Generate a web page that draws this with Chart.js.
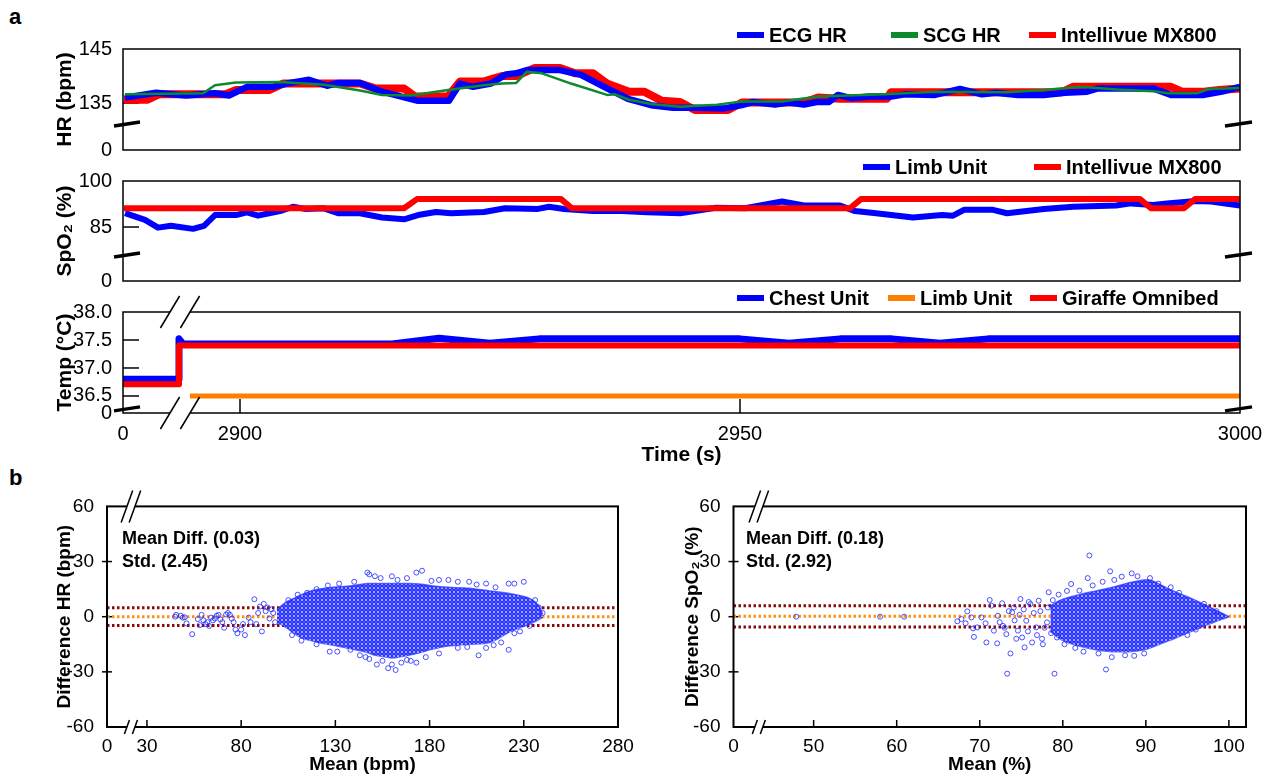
<!DOCTYPE html>
<html>
<head>
<meta charset="utf-8">
<script src="https://cdn.jsdelivr.net/npm/chart.js@4.4.1/dist/chart.umd.min.js"></script>
<style>
  body { margin: 0; background: #fff; }
  #page { position: relative; width: 1277px; height: 779px; overflow: hidden; font-family: Arial, "Liberation Sans", sans-serif; }
  .letter { position: absolute; font-weight: bold; font-size: 22px; }
  canvas { position: absolute; }
</style>
</head>
<body>
<div id="page">
  <div class="letter" style="left:9px; top:4px;">a</div>
  <div class="letter" style="left:9px; top:465px;">b</div>
  <canvas id="hrChart" style="left:0; top:0;" width="1277" height="165"></canvas>
  <canvas id="spo2Chart" style="left:0; top:150px;" width="1277" height="150"></canvas>
  <canvas id="tempChart" style="left:0; top:285px;" width="1277" height="185"></canvas>
  <canvas id="hrBaChart" style="left:0; top:490px;" width="640" height="289"></canvas>
  <canvas id="spo2BaChart" style="left:640px; top:490px;" width="637" height="289"></canvas>
</div>
<script>
// ---- panel a: heart rate (bpm) ----
var ecgTime = [2888.5, 2891.6, 2894.6, 2897.5, 2898.9, 2900.7, 2903.3, 2904.7, 2906.9, 2908.7, 2909.8, 2912.0, 2914.2, 2917.8, 2920.9, 2922.0, 2923.3, 2925.1, 2926.6, 2927.6, 2928.7, 2932.0, 2934.1, 2936.7, 2938.9, 2941.1, 2943.3, 2945.5, 2948.4, 2950.2, 2951.3, 2953.5, 2954.9, 2956.4, 2957.8, 2958.9, 2959.8, 2961.1, 2962.9, 2965.1, 2966.5, 2969.5, 2972.0, 2974.2, 2975.6, 2977.8, 2980.4, 2982.5, 2984.7, 2985.8, 2991.3, 2993.1, 2996.4, 2998.2, 3000];
var ecgHr = [136.0, 136.9, 136.4, 136.8, 136.4, 138.0, 138.0, 138.6, 139.3, 138.2, 138.7, 138.7, 137.1, 135.4, 135.4, 138.6, 138.0, 138.6, 140.3, 140.5, 141.1, 141.1, 140.2, 137.7, 135.7, 134.6, 134.1, 134.1, 134.0, 134.6, 135.2, 134.7, 135.1, 134.7, 135.2, 135.2, 136.5, 135.9, 136.2, 136.2, 136.6, 136.5, 137.6, 136.6, 136.9, 136.5, 136.5, 136.9, 137.1, 137.7, 137.7, 136.5, 136.5, 137.1, 138.0];

var scgTime = [2888.5, 2896.3, 2897.5, 2899.6, 2904.0, 2908.4, 2912.0, 2914.2, 2917.1, 2920.8, 2924.4, 2926.2, 2927.6, 2928.7, 2930.2, 2933.1, 2936.7, 2937.5, 2938.9, 2941.1, 2944.0, 2947.7, 2950.2, 2954.2, 2957.8, 2964.4, 2969.5, 2976.7, 2980.4, 2984.0, 2987.7, 2991.3, 2992.8, 2995.7, 2996.8, 3000];
var scgHr = [136.6, 136.8, 138.3, 138.8, 138.9, 138.4, 137.3, 136.5, 136.4, 137.4, 138.3, 138.6, 138.7, 140.8, 140.5, 138.6, 136.5, 136.6, 135.6, 134.8, 134.3, 134.7, 135.3, 135.3, 136.2, 136.6, 137.1, 137.0, 137.4, 138.0, 137.5, 137.2, 136.8, 136.8, 137.6, 137.8];

var mx800HrTime = [2888.4, 2890.7, 2891.9, 2898.5, 2899.6, 2902.9, 2904.3, 2912.0, 2913.5, 2916.4, 2917.5, 2920.8, 2922.0, 2924.4, 2926.2, 2927.6, 2929.5, 2932.0, 2933.5, 2935.3, 2936.7, 2938.9, 2940.4, 2942.2, 2944.0, 2945.5, 2948.8, 2950.2, 2956.4, 2957.8, 2960.0, 2964.7, 2965.1, 2982.2, 2983.3, 2993.1, 2994.2, 2996.4, 2997.9, 3000];
var mx800Hr = [135.6, 135.6, 136.6, 136.6, 137.4, 137.4, 138.6, 138.6, 137.7, 137.7, 136.2, 136.2, 139.0, 139.0, 140.0, 140.0, 141.5, 141.5, 140.5, 140.5, 138.6, 137.1, 137.1, 135.4, 135.2, 133.7, 133.7, 135.1, 135.1, 136.0, 135.8, 135.8, 137.0, 137.0, 138.0, 138.0, 137.1, 137.1, 137.4, 137.7];

var hrAxisMin = 126.3; // broken axis, bottom edge is labelled 0
var hrTickValues = [hrAxisMin, 135, 145];
var hrTickLabels = ['0', '135', '145'];

// ---- panel a: SpO2 (%) ----
var limbSpo2Time = [2888.5, 2890.5, 2891.8, 2893.1, 2895.3, 2896.4, 2897.5, 2899.6, 2900.7, 2901.8, 2904.0, 2905.3, 2906.5, 2908.4, 2909.8, 2912.0, 2914.2, 2916.4, 2917.8, 2919.6, 2921.1, 2924.4, 2926.5, 2929.8, 2930.9, 2932.4, 2935.3, 2938.2, 2940.7, 2944.0, 2947.6, 2950.5, 2954.2, 2956.4, 2960.0, 2961.5, 2963.6, 2967.3, 2970.2, 2971.3, 2972.4, 2975.3, 2976.7, 2980.4, 2983.3, 2987.6, 2989.1, 2991.3, 2992.7, 2995.6, 2997.1, 3000];
var limbSpo2 = [89.5, 87.3, 84.8, 85.4, 84.4, 85.4, 88.9, 88.9, 89.8, 88.7, 90.2, 91.6, 90.9, 91.1, 89.5, 89.5, 88.1, 87.5, 88.9, 89.9, 89.5, 89.9, 91.1, 90.9, 91.6, 90.9, 90.2, 90.2, 89.8, 89.5, 91.3, 91.1, 93.3, 92.0, 92.0, 90.2, 89.5, 88.1, 88.9, 88.7, 90.6, 90.6, 89.5, 90.9, 91.6, 92.0, 92.7, 92.2, 92.7, 93.5, 93.3, 92.0];

var mx800Spo2Time = [2888.4, 2916.4, 2917.7, 2932.1, 2933.2, 2961.0, 2962.1, 2990.0, 2991.1, 2994.4, 2995.5, 3000];
var mx800Spo2 = [91.1, 91.1, 94.1, 94.1, 91.1, 91.1, 94.1, 94.1, 91.1, 91.1, 94.1, 94.1];

var spo2AxisMin = 67.4;
var spo2TickValues = [spo2AxisMin, 85, 100];
var spo2TickLabels = ['0', '85', '100'];

// ---- panel a: temperature (C) ----
var chestTime = [2888.3, 2893.9, 2893.9, 2894.3, 2915.2, 2919.9, 2925.0, 2929.9, 2950.0, 2954.9, 2960.0, 2965.2, 2970.0, 2974.8, 3000];
var chestTemp = [36.8, 36.8, 37.52, 37.43, 37.43, 37.53, 37.44, 37.52, 37.52, 37.44, 37.52, 37.52, 37.44, 37.52, 37.52];
var limbTempTime = [2895.0, 3000];
var limbTemp = [36.5, 36.5];
var giraffeTime = [2888.3, 2893.9, 2893.9, 3000];
var giraffeTemp = [36.71, 36.71, 37.40, 37.40];

var tempAxisMin = 36.196;
var tempTickValues = [tempAxisMin, 36.5, 37.0, 37.5, 38.0];
var tempTickLabels = ['0', '36.5', '37.0', '37.5', '38.0'];

// shared time axis (broken after 0)
var timeAxisMin = 2888.3;
var timeAxisMax = 3000;
var timeTickValues = [timeAxisMin, 2900, 2950, 3000];
var timeTickLabels = ['0', '2900', '2950', '3000'];

// ---- panel b: Bland-Altman, HR ----
var hrMeanDiff = 0.03;
var hrStd = 2.45;
var hrBaEnvMean = [99, 104, 108, 112, 117, 121, 129, 136, 143, 147, 151, 158, 160, 169, 177, 180, 190, 201, 212, 223, 233, 238, 240];
var hrBaEnvUpper = [4, 8, 10, 12, 14, 15, 16, 16.5, 17.5, 18, 18, 18, 18, 18, 17.5, 17, 16, 15.5, 14, 12.5, 10, 6, 1.5];
var hrBaEnvLower = [-3, -6, -9, -11.5, -13, -14, -15.5, -17, -18.5, -19.5, -21, -22, -22.5, -21, -19, -18, -16, -15, -14, -8, -4, -1.5, -0.4];
var hrBaPoints = [
  [45, 0], [45.5, 1], [48, 0.5], [49, -0.5], [50, -0.3], [51, -3.6], [54, -9.5], [57, -1.3], [58, -4.6], [59, 1],
  [60, -2], [61, -4], [62, -3], [63, -5], [64, -0.5], [65, -2], [66, -1], [67, 0.5], [68, 1], [69, -1.5],
  [70, -3], [71, -6], [72, 1.2], [73, 2], [74, 1], [75, -1], [76, -3], [77, -7], [78, -9], [80, -7],
  [81, -4], [82, -10], [84, -0.5], [85, -3], [87, 9.5], [88, -4], [89, 2], [90, 5.5], [91, -8], [92, 7],
  [93, 3], [94, 5], [95, -1], [96, 4], [97, 2], [98, -3],
  [147, 24], [148, 23], [151, 22], [154, 21], [173, 24], [176, 25], [168, 21], [160, 22], [190, 20], [201, 19],
  [210, 18], [222, 18], [225, 18], [230, 19], [215, 16], [195, 19], [120, 15], [115, 13], [110, 12], [105, 9],
  [140, 19], [132, 18], [185, 20], [236, 9], [238, 5], [240, 2], [163, 20], [181, 19.5], [126, 17], [205, 17.5],
  [148, -23], [152, -26], [155, -24], [158, -28], [162, -29], [160, -26], [165, -25], [170, -24], [173, -25], [143, -21],
  [138, -18], [127, -19], [120, -15], [112, -13], [107, -10], [185, -20], [195, -17], [206, -21], [210, -17], [222, -18],
  [218, -14], [228, -8], [233, -5], [178, -22], [131, -19], [146, -22], [168, -23.5], [200, -16.5], [214, -15.5], [225, -9]
];
var hrBaAxisMin = 8.8;
var hrBaAxisMax = 280;
var hrBaTickValues = [hrBaAxisMin, 30, 80, 130, 180, 230, 280];
var hrBaTickLabels = ['0', '30', '80', '130', '180', '230', '280'];

// ---- panel b: Bland-Altman, SpO2 ----
var spo2MeanDiff = 0.18;
var spo2Std = 2.92;
var spo2BaEnvMean = [78.5, 80, 82, 84, 86, 88, 89.8, 90.8, 92.8, 95.2, 97.6, 100];
var spo2BaEnvUpper = [6, 9.5, 12, 14, 16, 18.5, 20, 19.5, 15, 10.5, 5.5, 0];
var spo2BaEnvLower = [-8, -13, -16, -18, -19, -19, -18, -16.5, -13, -8.5, -4, 0];
var spo2BaPoints = [
  [47.9, 0], [58, 0], [60.9, 0],
  [67.3, -2.5], [67.8, -1.3], [68.3, -3.6], [68.5, 2.9], [69, -0.4], [69.2, -6.4], [69.3, -11], [69.7, -5.8], [70.2, -0.4], [70.7, -3.6],
  [70.8, -14], [71.2, 9.1], [71.4, 6], [71.7, -7.6], [72.1, -14.5], [72.2, 0.5], [72.4, -3], [72.7, 7.3], [73.2, -9.5], [73.3, -31],
  [73.7, -20], [73.9, 2.4], [74.1, 5], [74.6, -7.6], [74.9, 9.6], [75.1, -11.3], [75.4, -16.7], [75.6, -2.2], [76.1, 6.9], [76.3, -14],
  [76.8, -5.8], [77.1, 8.7], [77.6, -15], [78.1, -3.1], [78.3, 13.3], [79, -31], [79.3, -11.3], [81, 17.8], [82, 14.2], [83, 21],
  [83.2, 33.3], [85.2, -28.7], [85.7, 24.7], [85.9, -22], [87.1, 21.8], [88.3, 23.6], [88.6, -21.3], [89.8, -20],
  [72.8, -5], [73.5, 3], [74.2, -2], [74.8, 1], [75.3, 4], [75.8, -8], [76.5, 2], [76.9, -10], [77.3, 3], [77.8, -6],
  [78.2, 5], [78.6, -9], [73.0, -6], [74.4, -12], [75.9, 8], [77.5, -12], [78.8, 9], [79.5, 12], [80.2, -15], [80.5, 14],
  [81.5, -17], [82.5, -19], [83.6, 17], [84.3, -20], [84.8, 19], [86.2, 20], [87.5, -21], [89, 22], [90.5, 21], [91.5, 18],
  [93, 16], [94, 13], [95, -10], [96, -7], [97, 7], [98.5, 3]
];
var spo2BaAxisMin = 40.35;
var spo2BaAxisMax = 102.06;
var spo2BaTickValues = [spo2BaAxisMin, 50, 60, 70, 80, 90, 100];
var spo2BaTickLabels = ['0', '50', '60', '70', '80', '90', '100'];

var FONT = 'Arial, "Liberation Sans", sans-serif';
Chart.defaults.font.family = FONT;
Chart.defaults.color = '#000';

function pts(xs, ys) {
  return xs.map(function (x, i) { return { x: x, y: ys[i] }; });
}
function pairs(list) {
  return list.map(function (p) { return { x: p[0], y: p[1] }; });
}
function seg(ctx, x1, y1, x2, y2) {
  ctx.beginPath(); ctx.moveTo(x1, y1); ctx.lineTo(x2, y2); ctx.stroke();
}

// frame, inward ticks, axis breaks, legend and notes
var decorPlugin = {
  id: 'decor',
  beforeDatasetsDraw: function (chart, args, o) {
    var ctx = chart.ctx, a = chart.chartArea, sx = chart.scales.x, sy = chart.scales.y;
    ctx.save();
    ctx.strokeStyle = '#000';
    ctx.lineWidth = 1.5;
    (o.yTicksIn || []).forEach(function (v) {
      var py = sy.getPixelForValue(v);
      seg(ctx, a.left, py, a.left + o.tickLen, py);
    });
    (o.yTicksCross || []).forEach(function (v) {
      var py = sy.getPixelForValue(v);
      seg(ctx, a.left - 5, py, a.left + 5, py);
    });
    (o.xTicksIn || []).forEach(function (v) {
      var px = sx.getPixelForValue(v);
      seg(ctx, px, a.bottom, px, a.bottom - o.xTickLen);
    });
    ctx.restore();
  },
  afterDatasetsDraw: function (chart, args, o) {
    var ctx = chart.ctx, a = chart.chartArea, sx = chart.scales.x, sy = chart.scales.y;
    ctx.save();
    ctx.strokeStyle = '#000';
    ctx.lineWidth = o.frameWidth;
    ctx.strokeRect(a.left, a.top, a.right - a.left, a.bottom - a.top);

    if (o.yBreak != null) {
      var py = sy.getPixelForValue(o.yBreak);
      ctx.lineWidth = 3.5;
      seg(ctx, a.left - 9, py + 2, a.left + 17, py - 2);
      seg(ctx, a.right - 15, py + 2, a.right + 12, py - 2);
    }

    if (o.xBreak) {
      var b = o.xBreak, px = sx.getPixelForValue(b.value);
      [[a.top, b.topH], [a.bottom, b.bottomH]].forEach(function (e) {
        var ey = e[0], h = e[1];
        if (!h) return;
        ctx.fillStyle = '#fff';
        ctx.fillRect(px - b.gap / 2, ey - 2, b.gap, 4);
        ctx.lineWidth = 1.5;
        [-b.gap / 2, b.gap / 2].forEach(function (off) {
          var run = h * b.slope;
          seg(ctx, px + off - run, ey + h, px + off + run, ey - h);
        });
      });
    }

    if (o.notes) {
      ctx.fillStyle = '#000';
      ctx.font = 'bold 18px ' + FONT;
      ctx.textBaseline = 'middle';
      ctx.textAlign = 'left';
      o.notes.forEach(function (n) { ctx.fillText(n.text, a.left + n.dx, a.top + n.dy); });
    }

    if (o.legend) {
      ctx.font = 'bold 20px ' + FONT;
      ctx.textBaseline = 'middle';
      ctx.textAlign = 'left';
      o.legend.items.forEach(function (it) {
        var ds = chart.data.datasets[it[0]];
        ctx.strokeStyle = ds.borderColor;
        ctx.lineWidth = 6;
        seg(ctx, it[1], o.legend.y, it[1] + 27, o.legend.y);
        ctx.fillStyle = '#000';
        ctx.fillText(ds.label, it[1] + 32, o.legend.y + 1);
      });
    }
    ctx.restore();
  }
};

function fixedTicks(values) {
  return function (scale) {
    scale.ticks = values.map(function (v) { return { value: v }; });
  };
}

// options for the three time panels
function timeOptions(p) {
  return {
    responsive: false,
    animation: false,
    events: [],
    layout: { padding: { left: 53, right: 37, top: p.top, bottom: p.bottom } },
    elements: { point: { radius: 0 }, line: { tension: 0, borderJoinStyle: 'round' } },
    scales: {
      x: {
        type: 'linear',
        min: timeAxisMin,
        max: timeAxisMax,
        display: p.showTime,
        afterBuildTicks: fixedTicks(timeTickValues),
        afterFit: function (s) { s.height = p.showTime ? 55 : 0; },
        ticks: {
          autoSkip: false, maxRotation: 0, padding: 1, font: { size: 20 },
          callback: function (v, i) { return timeTickLabels[i]; }
        },
        title: { display: true, text: 'Time (s)', font: { size: 21, weight: 'bold' }, padding: 0 },
        grid: { display: false },
        border: { display: false }
      },
      y: {
        min: p.yMin,
        max: p.yMax,
        afterBuildTicks: fixedTicks(p.tickValues),
        afterFit: function (s) { s.width = 70; },
        ticks: {
          autoSkip: false, padding: 3, font: { size: 20 },
          callback: function (v, i) { return p.tickLabels[i]; }
        },
        title: { display: true, text: p.yTitle, font: { size: 21, weight: 'bold' }, padding: 0 },
        grid: { display: false },
        border: { display: false }
      }
    },
    plugins: { legend: { display: false }, tooltip: { enabled: false }, decor: p.decor }
  };
}

new Chart(document.getElementById('hrChart'), {
  type: 'line',
  data: {
    datasets: [
      { label: 'ECG HR', data: pts(ecgTime, ecgHr), borderColor: '#0000ff', borderWidth: 6.5, order: 1 },
      { label: 'SCG HR', data: pts(scgTime, scgHr), borderColor: '#0c8a2c', borderWidth: 2.5, order: 0 },
      { label: 'Intellivue MX800', data: pts(mx800HrTime, mx800Hr), borderColor: '#ff0000', borderWidth: 8, order: 2 }
    ]
  },
  options: timeOptions({
    top: 49, bottom: 15, showTime: false,
    yMin: hrAxisMin, yMax: 145, tickValues: hrTickValues, tickLabels: hrTickLabels, yTitle: 'HR (bpm)',
    decor: { frameWidth: 1.5, tickLen: 16, yTicksIn: [135], yBreak: 131.1,
      legend: { y: 35, items: [[0, 737], [1, 891], [2, 1029]] } }
  }),
  plugins: [decorPlugin]
});

new Chart(document.getElementById('spo2Chart'), {
  type: 'line',
  data: {
    datasets: [
      { label: 'Limb Unit', data: pts(limbSpo2Time, limbSpo2), borderColor: '#0000ff', borderWidth: 6, order: 1 },
      { label: 'Intellivue MX800', data: pts(mx800Spo2Time, mx800Spo2), borderColor: '#ff0000', borderWidth: 6, order: 0 }
    ]
  },
  options: timeOptions({
    top: 31, bottom: 19, showTime: false,
    yMin: spo2AxisMin, yMax: 100, tickValues: spo2TickValues, tickLabels: spo2TickLabels, yTitle: 'SpO\u2082 (%)',
    decor: { frameWidth: 1.5, tickLen: 16, yTicksIn: [85], yBreak: 75.9,
      legend: { y: 17, items: [[0, 863], [1, 1034]] } }
  }),
  plugins: [decorPlugin]
});

new Chart(document.getElementById('tempChart'), {
  type: 'line',
  data: {
    datasets: [
      { label: 'Chest Unit', data: pts(chestTime, chestTemp), borderColor: '#0000ff', borderWidth: 7, order: 2 },
      { label: 'Limb Unit', data: pts(limbTempTime, limbTemp), borderColor: '#ff8000', borderWidth: 5, order: 1 },
      { label: 'Giraffe Omnibed', data: pts(giraffeTime, giraffeTemp), borderColor: '#ff0000', borderWidth: 6, order: 0 }
    ]
  },
  options: timeOptions({
    top: 27, bottom: 2, showTime: true,
    yMin: tempAxisMin, yMax: 38.0, tickValues: tempTickValues, tickLabels: tempTickLabels, yTitle: 'Temp (\u00b0C)',
    decor: { frameWidth: 1.5, tickLen: 16, xTickLen: 14, yTicksIn: [36.5, 37.0, 37.5], xTicksIn: [2900, 2950],
      yBreak: 36.27,
      xBreak: { value: 2894.0, gap: 20, slope: 0.6, topH: 16, bottomH: 16 },
      legend: { y: 13, items: [[0, 737], [1, 888], [2, 1030]] } }
  }),
  plugins: [decorPlugin]
});

// dense cloud is drawn as a textured area between its upper and lower edge
function cloudPattern() {
  var tile = document.createElement('canvas');
  tile.width = 4; tile.height = 4;
  var t = tile.getContext('2d');
  t.fillStyle = '#b9beff';
  t.fillRect(0, 0, 4, 4);
  t.strokeStyle = 'rgba(25,35,255,0.9)';
  t.lineWidth = 1.2;
  t.beginPath(); t.arc(2, 2, 1.7, 0, Math.PI * 2); t.stroke();
  return t.createPattern(tile, 'repeat');
}

function baChart(id, p) {
  var loaUp = p.meanDiff + 1.96 * p.std;
  var loaDown = p.meanDiff - 1.96 * p.std;
  var span = function (v) { return [{ x: p.xMin, y: v }, { x: p.xMax, y: v }]; };
  var dotted = { type: 'line', borderWidth: 3, borderDash: [2.5, 2.5], pointRadius: 0, fill: false };
  return new Chart(document.getElementById(id), {
    type: 'scatter',
    data: {
      datasets: [
        { label: 'points', data: pairs(p.points), pointRadius: 2.5, borderWidth: 1,
          borderColor: 'rgba(30,40,255,0.8)', backgroundColor: 'rgba(255,255,255,0)' },
        { type: 'line', label: 'cloud top', data: pts(p.envMean, p.envUpper), pointRadius: 0, tension: 0.3,
          borderWidth: 1.5, borderColor: 'rgba(35,45,255,0.7)', backgroundColor: cloudPattern(), fill: '+1' },
        { type: 'line', label: 'cloud bottom', data: pts(p.envMean, p.envLower), pointRadius: 0, tension: 0.3,
          borderWidth: 1.5, borderColor: 'rgba(35,45,255,0.7)', fill: false },
        Object.assign({ label: 'upper limit', data: span(loaUp), borderColor: '#8b0a0a' }, dotted),
        Object.assign({ label: 'mean', data: span(p.meanDiff), borderColor: '#ff9214' }, dotted),
        Object.assign({ label: 'lower limit', data: span(loaDown), borderColor: '#8b0a0a' }, dotted)
      ]
    },
    options: {
      responsive: false,
      animation: false,
      events: [],
      layout: { padding: { left: p.padLeft, right: p.padRight, top: 16, bottom: 3 } },
      scales: {
        x: {
          type: 'linear', min: p.xMin, max: p.xMax,
          afterBuildTicks: fixedTicks(p.tickValues),
          afterFit: function (s) { s.height = 49; },
          ticks: { autoSkip: false, maxRotation: 0, padding: 0, font: { size: 19 },
            callback: function (v, i) { return p.tickLabels[i]; } },
          title: { display: true, text: p.xTitle, font: { size: 19, weight: 'bold' }, padding: 0 },
          grid: { display: false },
          border: { display: false }
        },
        y: {
          min: -60, max: 60,
          ticks: { stepSize: 30, padding: 5, font: { size: 19 } },
          afterFit: function (s) { s.width = p.yWidth; },
          title: { display: true, text: p.yTitle, font: { size: 19, weight: 'bold' }, padding: 0 },
          grid: { display: false },
          border: { display: false }
        }
      },
      plugins: {
        legend: { display: false },
        tooltip: { enabled: false },
        decor: {
          frameWidth: 2, xTickLen: 7, xTicksIn: p.tickValues.slice(1), yTicksCross: [-30, 0, 30],
          xBreak: { value: p.breakAt, gap: 8, slope: 0.36, topH: 16, bottomH: 7 },
          notes: [
            { text: 'Mean Diff. (' + p.meanDiff.toFixed(2) + ')', dx: p.noteDx, dy: 33 },
            { text: 'Std. (' + p.std.toFixed(2) + ')', dx: p.noteDx, dy: 56 }
          ]
        }
      }
    },
    plugins: [decorPlugin]
  });
}

baChart('hrBaChart', {
  meanDiff: hrMeanDiff, std: hrStd, points: hrBaPoints,
  envMean: hrBaEnvMean, envUpper: hrBaEnvUpper, envLower: hrBaEnvLower,
  xMin: hrBaAxisMin, xMax: hrBaAxisMax, tickValues: hrBaTickValues, tickLabels: hrBaTickLabels,
  xTitle: 'Mean (bpm)', yTitle: 'Difference HR (bpm)', breakAt: 21.5,
  padLeft: 53, yWidth: 54, padRight: 22, noteDx: 15
});

baChart('spo2BaChart', {
  meanDiff: spo2MeanDiff, std: spo2Std, points: spo2BaPoints,
  envMean: spo2BaEnvMean, envUpper: spo2BaEnvUpper, envLower: spo2BaEnvLower,
  xMin: spo2BaAxisMin, xMax: spo2BaAxisMax, tickValues: spo2BaTickValues, tickLabels: spo2BaTickLabels,
  xTitle: 'Mean (%)', yTitle: 'Difference SpO\u2082 (%)', breakAt: 43.4,
  padLeft: 41, yWidth: 52.5, padRight: 31, noteDx: 12.5
});
</script>
</body>
</html>
